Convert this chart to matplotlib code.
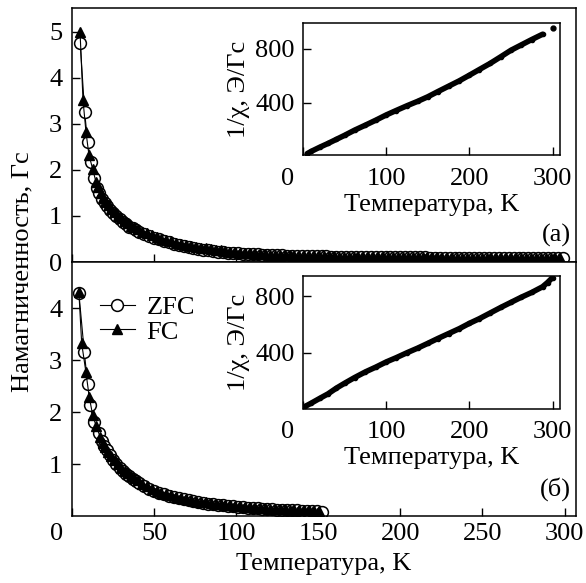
import matplotlib
matplotlib.use('Agg')
import matplotlib.pyplot as plt

plt.rcParams['font.family'] = ['Liberation Serif', 'DejaVu Serif']
plt.rcParams['font.size'] = 19

# (а) намагниченность, ZFC и FC, 5-300 K
zfc_a_T = [5.0, 7.7, 9.5, 11.5, 13.4, 15.0, 16.6, 18.2, 19.8, 21.5, 23.2, 25, 27, 29, 31, 33, 35, 37, 39,
           41, 44, 47, 50, 53, 56, 59, 62, 65, 68, 71, 74, 77, 80, 83, 86, 89, 92, 95, 98,
           101, 104, 107, 110, 113, 116, 119, 122, 125, 128, 131, 134, 137, 140, 143, 146, 149, 152, 155, 158,
           161, 164, 167, 170, 173, 176, 179, 182, 185, 188, 191, 194, 197, 200, 203, 206, 209, 212, 215, 218,
           221, 224, 227, 230, 233, 236, 239, 242, 245, 248, 251, 254, 257, 260, 263, 266, 269, 272, 275, 278,
           281, 284, 287, 290, 293, 296, 299]
zfc_a_M = [4.76, 3.26, 2.61, 2.17, 1.83, 1.61, 1.49, 1.38, 1.29, 1.21, 1.13, 1.06, 0.99, 0.93, 0.87, 0.82, 0.77, 0.73, 0.69,
           0.65, 0.61, 0.57, 0.53, 0.50, 0.46, 0.43, 0.40, 0.375, 0.35, 0.325, 0.305, 0.285, 0.27, 0.255, 0.24, 0.228, 0.215, 0.205, 0.195,
           0.187, 0.18, 0.174, 0.168, 0.163, 0.158, 0.153, 0.149, 0.145, 0.142, 0.139, 0.136, 0.133, 0.131, 0.129, 0.127, 0.125, 0.123, 0.121, 0.119,
           0.117, 0.116, 0.114, 0.113, 0.111, 0.11, 0.109, 0.108, 0.107, 0.106, 0.105, 0.104, 0.103, 0.102, 0.101, 0.1, 0.099, 0.098, 0.098, 0.097,
           0.096, 0.095, 0.095, 0.094, 0.093, 0.093, 0.092, 0.091, 0.091, 0.09, 0.089, 0.089, 0.088, 0.087, 0.087, 0.086, 0.086, 0.085, 0.084, 0.084,
           0.083, 0.083, 0.082, 0.081, 0.081, 0.08, 0.079]
fc_a_T = [4.9, 6.7, 8.5, 10.3, 12.6, 14.6, 15.8, 17.4, 19, 20.6, 22.3, 24, 26, 28, 30, 32, 34, 36, 38, 40,
          42.5, 45.5, 48.5, 51.5, 54.5, 57.5, 60.5, 63.5, 66.5, 69.5, 72.5, 75.5, 78.5, 81.5, 84.5, 87.5, 90.5, 93.5, 96.5, 99.5,
          102.5, 105.5, 108.5, 111.5, 114.5, 117.5, 120.5, 123.5, 126.5, 129.5, 132.5, 135.5, 138.5, 141.5, 144.5, 147.5, 150.5, 153.5, 156.5, 159.5,
          162.5, 165.5, 168.5, 171.5, 174.5, 177.5, 180.5, 183.5, 186.5, 189.5, 192.5, 195.5, 198.5, 201.5, 204.5, 207.5, 210.5, 213.5, 216.5, 219.5,
          222.5, 225.5, 228.5, 231.5, 234.5, 237.5, 240.5, 243.5, 246.5, 249.5, 252.5, 255.5, 258.5, 261.5, 264.5, 267.5, 270.5, 273.5, 276.5, 279.5,
          282.5, 285.5, 288.5, 291.5, 294.5, 297.5]
fc_a_M = [5.0, 3.52, 2.83, 2.33, 2.02, 1.74, 1.62, 1.50, 1.40, 1.31, 1.23, 1.16, 1.08, 1.01, 0.95, 0.89, 0.84, 0.79, 0.75, 0.71,
          0.66, 0.62, 0.58, 0.545, 0.51, 0.48, 0.45, 0.42, 0.395, 0.37, 0.35, 0.33, 0.31, 0.295, 0.28, 0.265, 0.25, 0.238, 0.226, 0.215,
          0.205, 0.196, 0.188, 0.18, 0.173, 0.167, 0.161, 0.156, 0.151, 0.147, 0.143, 0.14, 0.137, 0.134, 0.131, 0.129, 0.127, 0.125, 0.123, 0.121,
          0.119, 0.118, 0.116, 0.115, 0.113, 0.112, 0.111, 0.11, 0.109, 0.108, 0.107, 0.106, 0.105, 0.104, 0.103, 0.102, 0.101, 0.1, 0.1, 0.099,
          0.098, 0.097, 0.097, 0.096, 0.095, 0.095, 0.094, 0.093, 0.093, 0.092, 0.091, 0.091, 0.09, 0.089, 0.089, 0.088, 0.088, 0.087, 0.086, 0.086,
          0.085, 0.085, 0.084, 0.083, 0.083, 0.082]

# (б) намагниченность, 4-152 K
zfc_b_T = [4.2, 7.5, 9.5, 11.1, 13.2, 16.4, 18, 19.6, 21.2, 23, 25, 27, 29, 31, 33, 35, 37, 39,
           41, 44, 47, 50, 53, 56, 59, 62, 65, 68, 71, 74, 77, 80, 83, 86, 89, 92, 95, 98,
           101, 104, 107, 110, 113, 116, 119, 122, 125, 128, 131, 134, 137, 140, 143, 146, 149, 152]
zfc_b_M = [4.28, 3.15, 2.54, 2.13, 1.80, 1.60, 1.45, 1.35, 1.26, 1.17, 1.08, 1.0, 0.93, 0.87, 0.81, 0.76, 0.72, 0.68,
           0.63, 0.58, 0.52, 0.48, 0.45, 0.42, 0.39, 0.365, 0.34, 0.32, 0.30, 0.285, 0.27, 0.255, 0.24, 0.228, 0.216, 0.205, 0.195, 0.186,
           0.177, 0.169, 0.161, 0.154, 0.147, 0.141, 0.135, 0.13, 0.125, 0.12, 0.115, 0.111, 0.107, 0.103, 0.099, 0.095, 0.09, 0.082]
fc_b_T = [4.2, 5.9, 8.5, 10.5, 12.6, 14.6, 17.2, 18.8, 20.4, 22.1, 24, 26, 28, 30, 32, 34, 36, 38, 40,
          42.5, 45.5, 48.5, 51.5, 54.5, 57.5, 60.5, 63.5, 66.5, 69.5, 72.5, 75.5, 78.5, 81.5, 84.5, 87.5, 90.5, 93.5, 96.5, 99.5,
          102.5, 105.5, 108.5, 111.5, 114.5, 117.5, 120.5, 123.5, 126.5, 129.5, 132.5, 135.5, 138.5, 141.5, 144.5, 147.5, 150.5]
fc_b_M = [4.30, 3.32, 2.76, 2.29, 1.94, 1.74, 1.52, 1.41, 1.32, 1.23, 1.15, 1.07, 1.0, 0.93, 0.87, 0.82, 0.77, 0.73, 0.69,
          0.62, 0.57, 0.52, 0.48, 0.45, 0.42, 0.395, 0.37, 0.345, 0.325, 0.305, 0.29, 0.275, 0.26, 0.247, 0.235, 0.223, 0.212, 0.202, 0.193,
          0.184, 0.176, 0.168, 0.161, 0.154, 0.148, 0.142, 0.137, 0.132, 0.127, 0.122, 0.118, 0.114, 0.11, 0.106, 0.102, 0.097]

# обратная восприимчивость 1/chi
inv_a_T = [5, 10, 20, 30, 40, 50, 62, 75, 88, 100, 112, 125, 138, 150, 162, 175, 188, 200, 212, 225, 238, 250, 262, 275, 288]
inv_a_y = [25, 42, 72, 100, 130, 160, 198, 235, 273, 310, 343, 378, 411, 444, 482, 522, 562, 603, 645, 690, 740, 787, 825, 866, 905]
inv_a_last = (300, 950)
inv_b_T = [3, 10, 20, 30, 40, 50, 62, 75, 88, 100, 112, 125, 138, 150, 162, 175, 188, 200, 212, 225, 238, 250, 262, 275, 288, 294, 300]
inv_b_y = [23, 45, 78, 110, 150, 185, 225, 265, 300, 335, 365, 400, 433, 466, 500, 535, 570, 607, 640, 680, 720, 755, 790, 825, 865, 895, 930]

main_xticks = [0, 50, 100, 150, 200, 250, 300]
inset_xticks = [0, 100, 200, 300]
inset_yticks = [400, 800]

W, H = 586, 583
fig = plt.figure(figsize=(W / 100, H / 100), dpi=100)


def frac(x0, y0, x1, y1):
    # прямоугольник в пикселях -> доли фигуры
    return [x0 / W, 1 - y1 / H, (x1 - x0) / W, (y1 - y0) / H]


ax_a = fig.add_axes(frac(72, 8, 576, 262))
ax_b = fig.add_axes(frac(72, 262, 576, 516))


def magnet(ax, zT, zM, fT, fM):
    ax.plot(zT, zM, '-', color='black', lw=0.8, marker='o', mfc='white', mec='black',
            ms=8.5, mew=1.1, label='ZFC')
    ax.plot(fT, fM, '-', color='black', lw=0.8, marker='^', mfc='black', mec='black',
            ms=7.5, label='FC')
    ax.set_xlim(0, 307)
    ax.set_xticks(main_xticks)
    ax.tick_params(direction='in', length=6, width=1, top=False, right=False)
    ax.tick_params(axis='y', pad=7)
    for s in ax.spines.values():
        s.set_linewidth(1.1)


magnet(ax_a, zfc_a_T, zfc_a_M, fc_a_T, fc_a_M)
ax_a.set_ylim(0, 5.52)
ax_a.set_yticks([0, 1, 2, 3, 4, 5])
ax_a.set_xticklabels([])
ax_a.text(0.99, 0.06, '(a)', transform=ax_a.transAxes, ha='right', va='bottom')

magnet(ax_b, zfc_b_T, zfc_b_M, fc_b_T, fc_b_M)
ax_b.set_ylim(0, 4.885)
ax_b.set_yticks([1, 2, 3, 4])
ax_b.set_xticklabels([''] + [str(t) for t in main_xticks[1:]])
ax_b.tick_params(axis='x', pad=5)
ax_b.annotate('0', xy=(0, 0), xycoords=('data', 'axes fraction'), xytext=(-11, -5),
              textcoords='offset points', ha='center', va='top')
ax_b.set_xlabel('Температура, K')
ax_b.xaxis.set_label_coords(0.5, -0.146)
ax_b.text(0.99, 0.06, '(б)', transform=ax_b.transAxes, ha='right', va='bottom')
ax_b.legend(loc='upper left', bbox_to_anchor=(0.035, 0.91), frameon=False, handlelength=1.3,
            handletextpad=0.45, labelspacing=0.05, borderaxespad=0.0)

fig.text(22 / W, 1 - 272 / H, 'Намагниченность, Гс', rotation=90, ha='center', va='center')


def inset(rect, T, y, ylim, last=None):
    ax = fig.add_axes(rect)
    ax.plot(T, y, '-', color='black', lw=4, marker='o', ms=3, mfc='black', mec='black',
            solid_capstyle='round')
    if last is not None:
        ax.plot([last[0]], [last[1]], 'o', color='black', ms=3.5)
    ax.set_xlim(2, 309)
    ax.set_ylim(*ylim)
    ax.set_xticks(inset_xticks)
    ax.set_xticklabels([''] + [str(t) for t in inset_xticks[1:]])
    ax.set_yticks(inset_yticks)
    ax.tick_params(direction='in', length=6, width=1)
    ax.tick_params(axis='x', pad=9)
    ax.tick_params(axis='y', pad=6)
    ax.annotate('0', xy=(0, 0), xycoords=('data', 'axes fraction'), xytext=(-11, -9),
                textcoords='offset points', ha='center', va='top')
    ax.set_xlabel('Температура, K', labelpad=3)
    ax.set_ylabel('1/χ, Э/Гс', labelpad=4)
    for s in ax.spines.values():
        s.set_linewidth(1.1)
    return ax


inset(frac(303, 23, 560, 155), inv_a_T, inv_a_y, (15, 988), last=inv_a_last)
inset(frac(303, 276, 560, 408.5), inv_b_T, inv_b_y, (7, 941))

fig.savefig('out.png', dpi=100)
